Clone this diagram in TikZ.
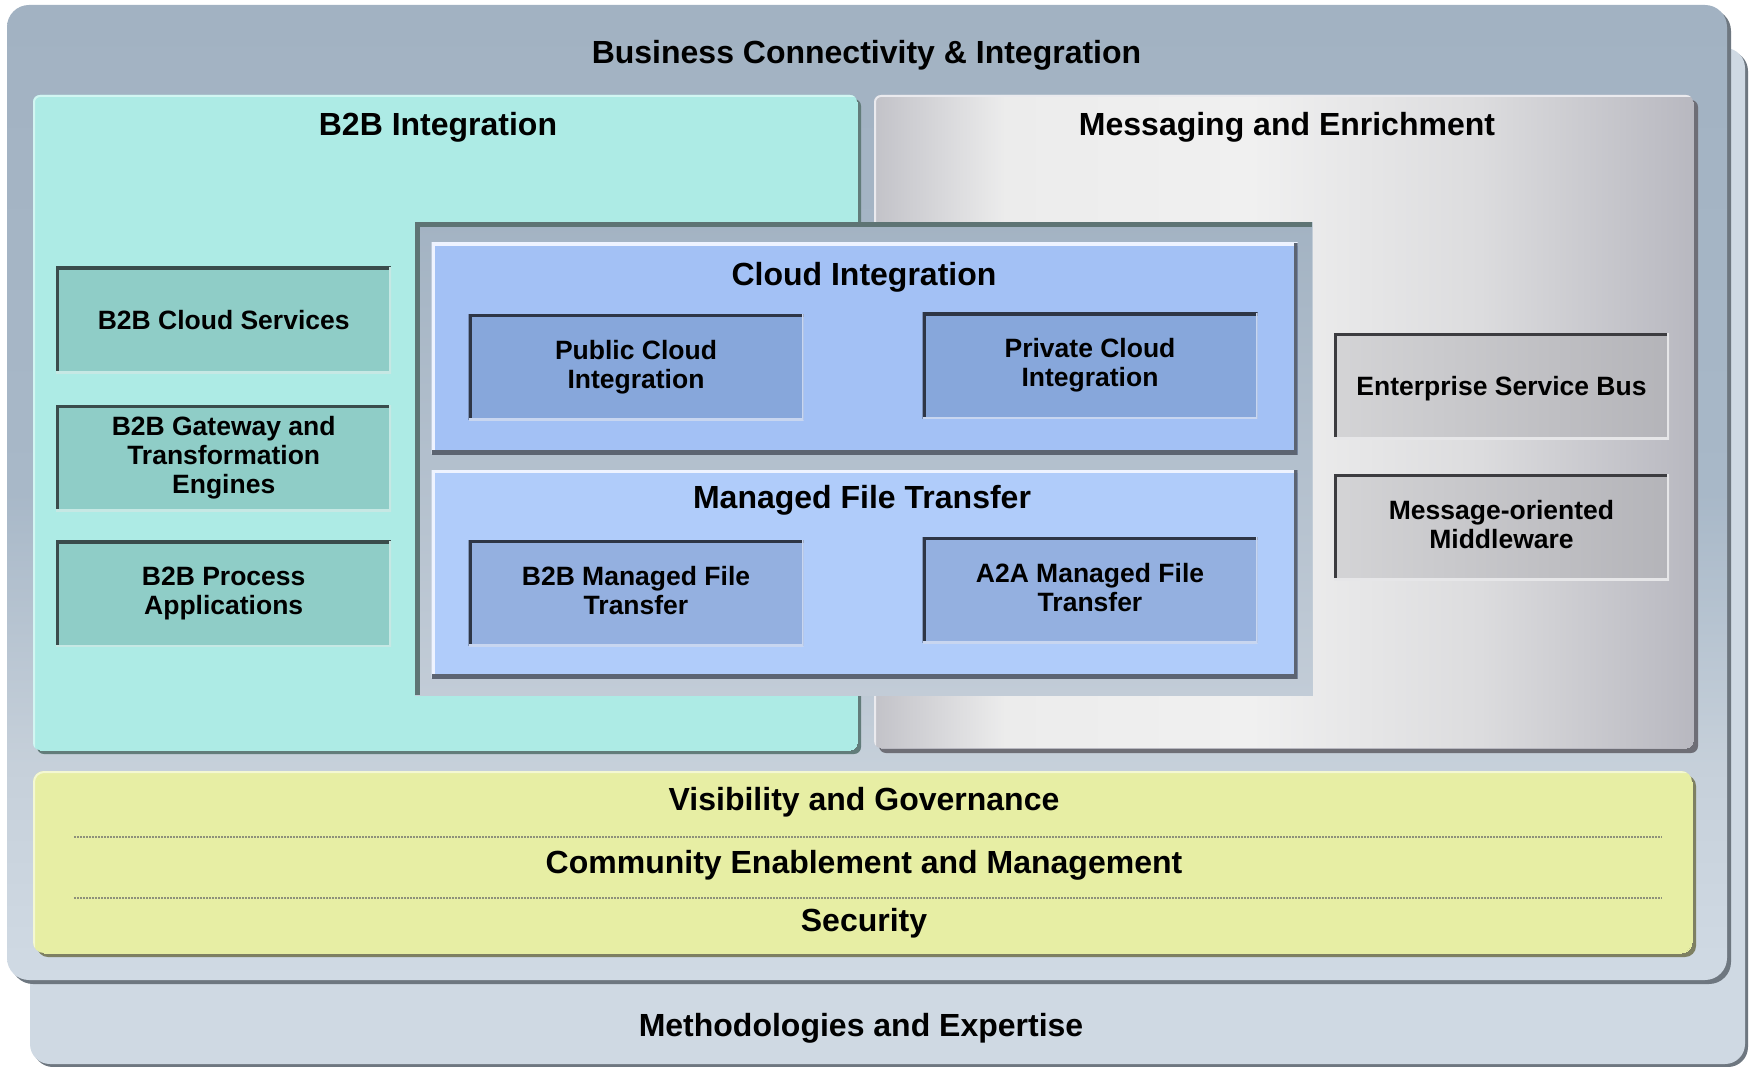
\documentclass[tikz,border=0pt]{standalone}
\usepackage{fontspec}
\setmainfont{Liberation Sans}
\usetikzlibrary{shadows}

\definecolor{frontTop}{HTML}{A2B2C2}
\definecolor{frontMid}{HTML}{A8B8C8}
\definecolor{frontLow}{HTML}{C6D0DA}
\definecolor{frontBot}{HTML}{D0DAE4}
\definecolor{panelShadow}{HTML}{6E7780}
\definecolor{backCol}{HTML}{CFD9E3}
\definecolor{tealReg}{HTML}{ADEBE5}
\definecolor{tealShadow}{HTML}{627C7A}
\definecolor{tealLight}{HTML}{D2F6F2}
\definecolor{tealBox}{HTML}{8FCDC7}
\definecolor{tealBoxDark}{HTML}{3A4C4C}
\definecolor{tealBoxLight}{HTML}{C6E8E4}
\definecolor{contTop}{HTML}{A3B3C3}
\definecolor{contBot}{HTML}{C2CCD7}
\definecolor{contDark}{HTML}{5E7474}
\definecolor{cloudCol}{HTML}{A3C1F5}
\definecolor{mftCol}{HTML}{B0CCFA}
\definecolor{blueLight}{HTML}{EEF3FF}
\definecolor{blueDark}{HTML}{5C6472}
\definecolor{cloudBox}{HTML}{87A7DB}
\definecolor{mftBox}{HTML}{94B0E0}
\definecolor{blueBoxDark}{HTML}{2E3646}
\definecolor{blueBoxLight}{HTML}{C8D6F0}
\definecolor{yellowCol}{HTML}{E7EEA4}
\definecolor{yellowShadow}{HTML}{7E8062}
\definecolor{yellowLight}{HTML}{F4F8D2}
\definecolor{sepCol}{HTML}{8E907A}
\definecolor{mA}{HTML}{C2C2C8}
\definecolor{mB}{HTML}{ECECEC}
\definecolor{mC}{HTML}{F0F0F0}
\definecolor{mD}{HTML}{DCDCDE}
\definecolor{mE}{HTML}{B8B8C0}
\definecolor{msgShadow}{HTML}{6E6E76}
\definecolor{msgLight}{HTML}{EAEAEE}
\definecolor{esbL}{HTML}{D4D4D6}
\definecolor{esbR}{HTML}{B4B4B9}
\definecolor{esbDark}{HTML}{3C3C40}
\definecolor{esbLight}{HTML}{E6E6E8}

\pgfdeclareverticalshading{frontshade}{100bp}{color(0bp)=(frontBot); color(25bp)=(frontBot); color(36bp)=(frontLow); color(50bp)=(frontMid); color(75bp)=(frontTop); color(100bp)=(frontTop)}
\pgfdeclarehorizontalshading{msgshade}{100bp}{color(0bp)=(mA); color(25bp)=(mA); color(33bp)=(mB); color(48bp)=(mC); color(62bp)=(mD); color(75bp)=(mE); color(100bp)=(mE)}

\begin{document}
\begin{tikzpicture}[x=1pt,y=-1pt,
  every node/.style={inner sep=0pt, outer sep=0pt},
  ttl/.style={font=\fontsize{32}{36}\selectfont\bfseries, text height=23pt, text depth=0pt},
  boxtxt/.style={font=\fontsize{26.5}{29}\selectfont\bfseries, align=center, text depth=5.5pt},
  bevel/.style n args={4}{path picture={
     \draw[line width=#3,#1] (path picture bounding box.south west) -- (path picture bounding box.north west) -- (path picture bounding box.north east);
     \draw[line width=#4,#2] (path picture bounding box.north east) -- (path picture bounding box.south east) -- (path picture bounding box.south west);}},
  shadowed/.style 2 args={drop shadow={shadow xshift=#2, shadow yshift=-#2, opacity=1, fill=#1}},
  panelbox/.style={rectangle, rounded corners=22pt},
  region/.style={rectangle, rounded corners=7pt},
  tbox/.style={boxtxt, fill=tealBox, minimum width=335pt, minimum height=106pt,
     bevel={tealBoxDark}{tealBoxLight}{6pt}{4pt}},
  bbox/.style={boxtxt, fill=#1, minimum width=335pt, minimum height=106pt,
     bevel={blueBoxDark}{blueBoxLight}{6pt}{4pt}},
  gbox/.style={boxtxt, left color=esbL, right color=esbR, minimum width=335pt, minimum height=106pt,
     bevel={esbDark}{esbLight}{6pt}{4pt}},
  sepline/.style={sepCol, line width=1.6pt, dash pattern=on 2pt off 1pt}
]
\useasboundingbox[fill=white] (0,0) rectangle (1753,1067);

% back panel
\node[panelbox, rounded corners=20pt, fill=backCol, shadowed={panelShadow}{3pt},
      minimum width=1715pt, minimum height=1016pt] (back) at (887.5,556) {};
% front panel
\node[panelbox, shading=frontshade, shadowed={panelShadow}{4pt},
      minimum width=1720pt, minimum height=975pt] (front) at (867,492.5) {};

% B2B region
\node[region, fill=tealReg, shadowed={tealShadow}{4pt}, bevel={tealLight}{tealReg}{4pt}{0pt},
      minimum width=824pt, minimum height=655pt] (b2b) at (445,422.5) {};
% Messaging region
\node[region, shading=msgshade, shadowed={msgShadow}{5pt}, bevel={msgLight}{mE}{4pt}{0pt},
      minimum width=819pt, minimum height=653pt] (msg) at (1283.5,421.5) {};

% central container
\node[rectangle, top color=contTop, bottom color=contBot, bevel={contDark}{contBot}{9pt}{0pt},
      minimum width=897pt, minimum height=472pt] (cont) at (863.5,459) {};

% Cloud integration
\node[rectangle, fill=cloudCol, bevel={blueLight}{blueDark}{6pt}{8pt},
      minimum width=866pt, minimum height=211pt] (cloud) at (864.5,348.5) {};
% Managed file transfer
\node[rectangle, fill=mftCol, bevel={blueLight}{blueDark}{6pt}{8pt},
      minimum width=866pt, minimum height=208pt] (mft) at (864.5,574) {};

% yellow band
\node[region, rounded corners=11pt, fill=yellowCol, shadowed={yellowShadow}{4pt}, bevel={yellowLight}{yellowCol}{4pt}{0pt},
      minimum width=1659pt, minimum height=182pt] (yel) at (862.5,862) {};

% titles
\node[ttl] (tBCI) at (866.5,52) {Business Connectivity \& Integration};
\node[ttl] (tB2B) at (438,124.5) {B2B Integration};
\node[ttl] (tMsg) at (1287,124.5) {Messaging and Enrichment};
\node[ttl] (tCloud) at (864,274.5) {Cloud Integration};
\node[ttl] (tMft) at (862,496.5) {Managed File Transfer};
\node[ttl] (tVis) at (864,799) {Visibility and Governance};
\node[ttl] (tCom) at (864,862) {Community Enablement and Management};
\node[ttl] (tSec) at (864,920) {Security};
\node[ttl] (tMeth) at (861,1025) {Methodologies and Expertise};

% separators
\draw[sepline] (74,837) -- (1662,837);
\draw[sepline] (74,898) -- (1662,898);

% B2B boxes
\node[tbox, text depth=0pt] (cs) at (223.7,320) {B2B Cloud Services};
\node[tbox] (gw) at (223.7,458) {B2B Gateway and\\Transformation\\Engines};
\node[tbox] (pa) at (223.7,593.5) {B2B Process\\Applications};

% cloud boxes
\node[bbox=cloudBox] (pub) at (636,367) {Public Cloud\\Integration};
\node[bbox=cloudBox] (priv) at (1090,365.5) {Private Cloud\\Integration};

% mft boxes
\node[bbox=mftBox] (bmft) at (636,593) {B2B Managed File\\Transfer};
\node[bbox=mftBox] (amft) at (1090,590) {A2A Managed File\\Transfer};

% messaging boxes
\node[gbox, text depth=1pt] (esb) at (1501.5,386) {Enterprise Service Bus};
\node[gbox] (mom) at (1501.5,527) {Message-oriented\\Middleware};
\end{tikzpicture}
\end{document}
